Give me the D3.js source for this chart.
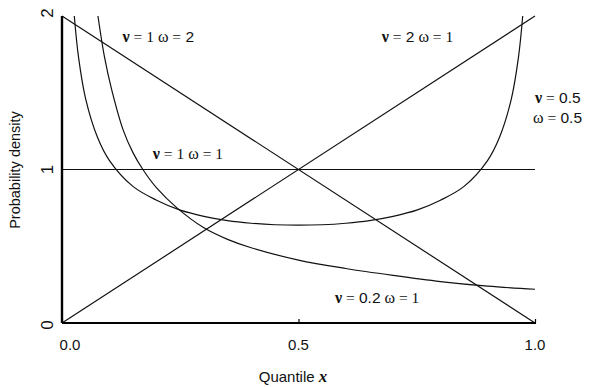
<!DOCTYPE html>
<html>
<head>
<meta charset="utf-8">
<script src="https://cdn.jsdelivr.net/npm/d3@7"></script>
<style>
  html, body { margin: 0; padding: 0; background: #fff; }
  svg { display: block; }
</style>
</head>
<body>
<svg id="chart" width="591" height="387"></svg>
<script>
// Beta densities on the unit interval, sampled points (quantile, density)
const lineOneTwo = [[0, 2], [1, 0]];          // ν = 1, ω = 2
const lineTwoOne = [[0, 0], [1, 2]];          // ν = 2, ω = 1
const lineOneOne = [[0, 1], [1, 1]];          // ν = 1, ω = 1
const curveHalfHalf = [
  [0.026, 2.0], [0.035, 1.73], [0.05, 1.46], [0.075, 1.21], [0.1, 1.06],
  [0.15, 0.89], [0.2, 0.80], [0.25, 0.735], [0.3, 0.695], [0.35, 0.667],
  [0.4, 0.65], [0.45, 0.64], [0.5, 0.637], [0.55, 0.64], [0.6, 0.65],
  [0.65, 0.667], [0.7, 0.695], [0.75, 0.735], [0.8, 0.80], [0.85, 0.89],
  [0.9, 1.06], [0.925, 1.21], [0.95, 1.46], [0.965, 1.73], [0.974, 2.0]
];
const curveFifthOne = [
  [0.076, 2.0], [0.09, 1.73], [0.105, 1.52], [0.129, 1.26], [0.15, 1.11],
  [0.171, 1.0], [0.2, 0.88], [0.243, 0.75], [0.3, 0.62], [0.35, 0.545],
  [0.4, 0.49], [0.5, 0.41], [0.6, 0.355], [0.7, 0.31], [0.8, 0.27],
  [0.9, 0.24], [1.0, 0.22]
];

const xTicks = [0, 0.5, 1];
const xTickLabels = ["0.0", "0.5", "1.0"];
const yTicks = [0, 1, 2];
const yTickLabels = ["0", "1", "2"];

// Curve annotations: text lines with anchor point in data units
const curveLabels = [
  { lines: ["ν = 1 ω = 2"], at: [0.128, 1.83] },
  { lines: ["ν = 2 ω = 1"], at: [0.676, 1.83] },
  { lines: ["ν = 0.5", "ω = 0.5"], at: [1.0, 1.436] },
  { lines: ["ν = 1 ω = 1"], at: [0.192, 1.07] },
  { lines: ["ν = 0.2 ω = 1"], at: [0.577, 0.13] }
];

const svg = d3.select("#chart");
const x = d3.scaleLinear().domain([0, 1]).range([62, 535]);
const y = d3.scaleLinear().domain([0, 2]).range([323, 16]);

const line = d3.line().x(d => x(d[0])).y(d => y(d[1]));
const smooth = d3.line().x(d => x(d[0])).y(d => y(d[1])).curve(d3.curveCatmullRom.alpha(0.5));

const plot = svg.append("g");
[lineOneTwo, lineTwoOne, lineOneOne].forEach(d => {
  plot.append("path").attr("d", line(d))
    .attr("fill", "none").attr("stroke", "#111").attr("stroke-width", 1.2);
});
[curveHalfHalf, curveFifthOne].forEach(d => {
  plot.append("path").attr("d", smooth(d))
    .attr("fill", "none").attr("stroke", "#111").attr("stroke-width", 1.2);
});

// Axes: left and bottom rules with small inward ticks
const xAxis = d3.axisBottom(x).tickValues(xTicks).tickSize(-4).tickFormat("");
const gx = svg.append("g").attr("transform", `translate(0,${y(0)})`).call(xAxis);
gx.select(".domain").attr("d", `M${x(0)},0H${x(1) + 1}`).attr("stroke", "#000").attr("stroke-width", 2.2);
gx.selectAll(".tick line").attr("stroke", "#000").attr("stroke-width", 1.2);

const yAxis = d3.axisLeft(y).tickValues(yTicks).tickSize(0).tickFormat("");
const gy = svg.append("g").attr("transform", `translate(${x(0)},0)`).call(yAxis);
gy.select(".domain").attr("d", `M0,${y(0)}V${y(2)}`).attr("stroke", "#000").attr("stroke-width", 2.4);

const sans = "'Liberation Sans', Arial, sans-serif";
const serif = "'Liberation Serif', 'Times New Roman', serif";

// Tick labels
svg.append("g").selectAll("text").data(xTicks).join("text")
  .attr("x", (d, i) => x(d) + (i === 0 ? 8 : 0))
  .attr("y", 350)
  .attr("text-anchor", "middle")
  .attr("font-family", sans).attr("font-size", 15).attr("fill", "#111")
  .text((d, i) => xTickLabels[i]);

svg.append("g").selectAll("text").data(yTicks).join("text")
  .attr("transform", (d, i) => `translate(53,${y(d) + (i === 2 ? -3 : (i === 0 ? 2 : 0))}) rotate(-90)`)
  .attr("text-anchor", "middle")
  .attr("font-family", sans).attr("font-size", 17).attr("fill", "#111")
  .text((d, i) => yTickLabels[i]);

// Axis titles
const xt = svg.append("text").attr("x", 293).attr("y", 382)
  .attr("text-anchor", "middle").attr("font-family", sans).attr("font-size", 15).attr("fill", "#111");
xt.append("tspan").text("Quantile ");
xt.append("tspan").attr("font-family", serif).attr("font-style", "italic").attr("font-weight", "bold").attr("font-size", 17).text("x");

svg.append("text").attr("transform", "translate(20,170) rotate(-90)")
  .attr("text-anchor", "middle").attr("font-family", sans).attr("font-size", 14.5).attr("fill", "#111")
  .text("Probability density");

// Curve annotations: Greek letters and integers in serif, decimals in sans
function writeLabel(g, str) {
  str.split(" ").forEach((tok, i) => {
    const isSans = /^\d\.\d$/.test(tok) || tok === "2";
    g.append("tspan")
      .attr("font-family", isSans ? sans : serif)
      .attr("font-weight", tok === "ν" ? "bold" : null)
      .attr("font-size", tok === "ν" || tok === "ω" ? 16 : 15.5)
      .text((i > 0 ? " " : "") + tok);
  });
}
curveLabels.forEach(lab => {
  lab.lines.forEach((ln, k) => {
    const t = svg.append("text")
      .attr("x", x(lab.at[0]) - (k > 0 ? 2 : 0))
      .attr("y", y(lab.at[1]) + k * 20)
      .attr("fill", "#111");
    writeLabel(t, ln);
  });
});
</script>
</body>
</html>
